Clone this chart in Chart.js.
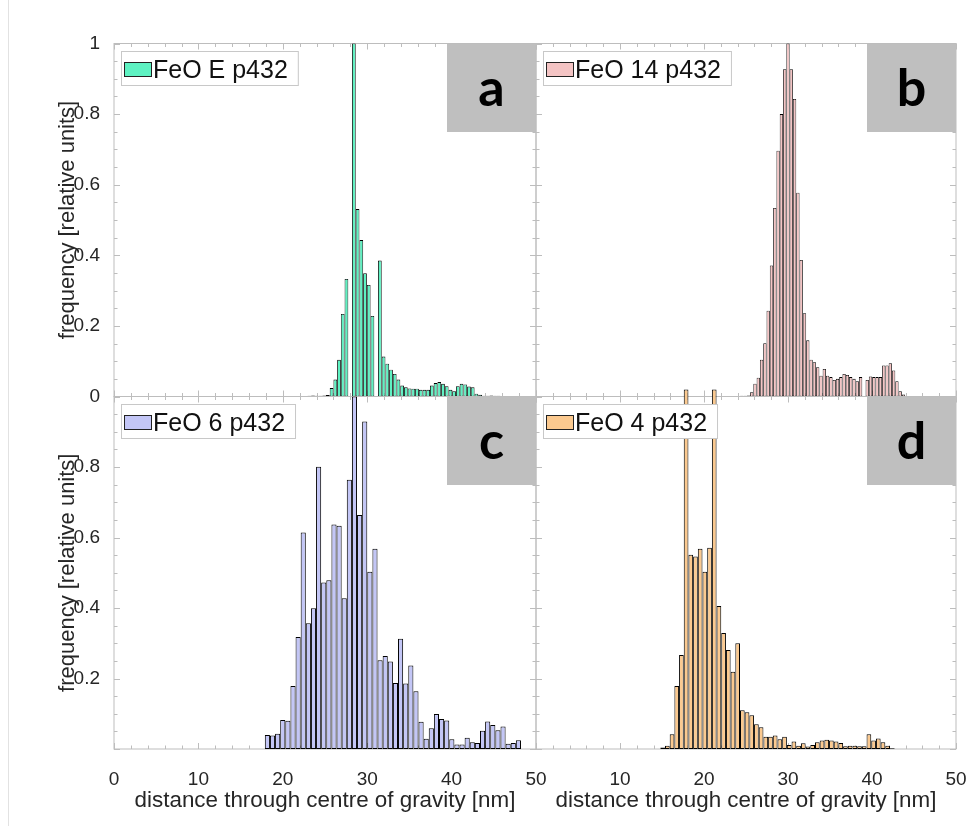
<!DOCTYPE html>
<html lang="en">
<head>
<meta charset="UTF-8">
<title>FeO p432 - distance through centre of gravity</title>
<script src="https://cdn.jsdelivr.net/npm/chart.js@4"></script>
<style>
  html, body { margin: 0; padding: 0; background: #fff; }
  #page { position: relative; width: 969px; height: 826px; overflow: hidden; }
  #page canvas { position: absolute; top: 0; }
  #panelA, #panelC { left: 0; }
  #panelB, #panelD { left: 436px; }
  .edge { position: absolute; left: 8px; top: 0; width: 1px; height: 826px; background: #e2e2e2; }
</style>
</head>
<body>
<div id="page">
  <div class="edge"></div>
  <canvas id="panelA"></canvas>
  <canvas id="panelB"></canvas>
  <canvas id="panelC"></canvas>
  <canvas id="panelD"></canvas>
</div>
<script>
// histogram bins: left edge of the first bin and bin width (nm), then relative frequencies
const binStartA = 22.92;
const binWidthA = 0.44;
const freqA = [0.002, 0.003, 0.002, 0.002, 0.003, 0.004,
  0.024, 0.048, 0.104, 0.234, 0.333, 0, 1.0, 0.531, 0.443, 0.349, 0.316, 0.228, 0, 0.385,
  0.113, 0.093, 0.076, 0.064, 0.048, 0.031, 0.026, 0.023, 0.022, 0.022, 0.019, 0.019, 0.019,
  0.031, 0.038, 0.041, 0.036, 0.029, 0.019, 0.015, 0.029, 0.036, 0.034, 0.028, 0.026, 0.008, 0.005,
  0.002, 0.002, 0.003, 0.002, 0.002];

const binStartB = 24.30;
const binWidthB = 0.393;
const freqB = [0.002, 0.002, 0.003,
  0.012, 0.036, 0.053, 0.104, 0.151, 0.243, 0.371, 0.534, 0.696, 0.80, 0.927, 1.0, 0.927, 0.843,
  0.577, 0.387, 0.236, 0.159, 0.104, 0.097, 0.083, 0.059, 0.078, 0.059, 0.055, 0.047, 0.050, 0.055,
  0.064, 0.061, 0.055, 0.050, 0.043, 0.055, 0, 0.047, 0.057, 0.055, 0.055, 0.055, 0.088, 0.088,
  0.094, 0.074, 0.043, 0.015, 0.006];

const binStartC = 17.87;
const binWidthC = 0.607;
const freqC = [0.040, 0.038, 0.043, 0.082, 0.080, 0.179, 0.318, 0.614, 0.357, 0.399, 0.801, 0.472,
  0.479, 0.637, 0.633, 0.428, 0.764, 1.0, 0.664, 0.929, 0.503, 0.568, 0.252, 0.264, 0.248, 0.187,
  0.313, 0.186, 0.237, 0.164, 0.077, 0.029, 0.059, 0.099, 0.085, 0.081, 0.028, 0.013, 0.013, 0.032,
  0.019, 0.017, 0.052, 0.078, 0.068, 0.053, 0.064, 0.015, 0.017, 0.025];

const binStartD = 14.80;
const binWidthD = 0.558;
const freqD = [0.004, 0.009, 0.042, 0.179, 0.267, 1.02, 0.551, 0.546, 0.568, 0.503, 0.571, 1.02,
  0.406, 0.329, 0.281, 0.219, 0.300, 0.110, 0.104, 0.096, 0.070, 0.062, 0.035, 0.035, 0.038, 0.028,
  0.035, 0.011, 0.021, 0.009, 0.016, 0.007, 0.011, 0.019, 0.024, 0.026, 0.024, 0.021, 0.017, 0.008,
  0.009, 0.009, 0.008, 0.008, 0.042, 0.024, 0.030, 0.019, 0.009, 0.002];

const xTickValues = [0, 10, 20, 30, 40, 50];
const xTickValuesRight = [10, 20, 30, 40, 50];
const yTickValues = [0, 0.2, 0.4, 0.6, 0.8, 1];
const yTickValuesLower = [0.2, 0.4, 0.6, 0.8];

const sampleNames = ['FeO E p432', 'FeO 14 p432', 'FeO 6 p432', 'FeO 4 p432'];
const panelLetters = ['a', 'b', 'c', 'd'];
const fillColors = ['#5ef2c2', '#f4c4c4', '#c3c6f6', '#fbc98f'];

const xTitle = 'distance through centre of gravity [nm]';
const yTitle = 'frequency [relative units]';

const H = 826;
const RIGHT_PAD = 30;   // room for the last x tick label, so the layout keeps the plot edge where asked
const FONT = '"Liberation Sans", Arial, Helvetica, sans-serif';
Chart.defaults.font.family = FONT;
Chart.defaults.color = '#262626';

// bin centres for the bar positions on the linear x axis
function binCentres(start, width, n) {
    const out = [];
    for (let i = 0; i < n; i++) out.push(start + (i + 0.5) * width);
    return out;
}

// frame with inward ticks, legend box and panel letter
const panelDecor = {
    id: 'panelDecor',
    beforeDatasetsDraw(chart, args, o) {
        const ctx = chart.ctx;
        const {left, top, right, bottom} = chart.chartArea;
        const xs = chart.scales.x, ys = chart.scales.y;
        ctx.save();
        ctx.strokeStyle = '#bdbdbd';
        ctx.lineWidth = 1;
        ctx.strokeRect(left, top, right - left, bottom - top);
        ctx.beginPath();
        for (let v = 0; v <= 50; v += 2) {
            const px = Math.round(xs.getPixelForValue(v)) + 0.5;
            const len = v % 10 === 0 ? 6 : 3.5;
            ctx.moveTo(px, bottom); ctx.lineTo(px, bottom - len);
            ctx.moveTo(px, top); ctx.lineTo(px, top + len);
        }
        for (let i = 0; i <= 20; i++) {
            const py = Math.round(ys.getPixelForValue(i * 0.05)) + 0.5;
            const len = i % 4 === 0 ? 6 : 3.5;
            ctx.moveTo(left, py); ctx.lineTo(left + len, py);
            ctx.moveTo(right, py); ctx.lineTo(right - len, py);
        }
        ctx.stroke();
        ctx.restore();
    },
    afterDatasetsDraw(chart, args, o) {
        const ctx = chart.ctx;
        const {left, top, right} = chart.chartArea;
        const ds = chart.data.datasets[0];
        ctx.save();
        // legend
        ctx.font = '25px ' + FONT;
        const tw = ctx.measureText(ds.label).width;
        const bx = Math.round(left) + 7, by = Math.round(top) + 7;
        const bw = 32 + tw + 10, bh = 34;
        ctx.fillStyle = '#fff';
        ctx.fillRect(bx, by, bw, bh);
        ctx.strokeStyle = '#c8c8c8';
        ctx.lineWidth = 1;
        ctx.strokeRect(bx + 0.5, by + 0.5, bw, bh);
        ctx.fillStyle = ds.backgroundColor;
        ctx.fillRect(bx + 3.5, by + 11.5, 27, 14);
        ctx.strokeStyle = '#222';
        ctx.strokeRect(bx + 3.5, by + 11.5, 27, 14);
        ctx.fillStyle = '#111';
        ctx.textBaseline = 'alphabetic';
        ctx.textAlign = 'left';
        ctx.fillText(ds.label, bx + 32, by + 27);
        // letter tag
        const tagW = 89, tagH = 88;
        const tx = right - tagW, ty = top + 0.5;
        ctx.fillStyle = '#bfbfbf';
        ctx.fillRect(tx, ty, tagW, tagH);
        ctx.fillStyle = '#000';
        ctx.font = 'bold 52px Lato, ' + FONT;
        ctx.textAlign = 'center';
        ctx.fillText(o.letter, tx + tagW / 2, ty + 62);
        ctx.restore();
    }
};

function makePanel(id, cfg) {
    const canvas = document.getElementById(id);
    const area = cfg.area;
    canvas.width = area.right + RIGHT_PAD;
    canvas.height = H;
    const centres = binCentres(cfg.start, cfg.width, cfg.freq.length);
    return new Chart(canvas, {
        type: 'bar',
        data: {
            datasets: [{
                label: cfg.name,
                data: centres.map((x, i) => ({x: x, y: cfg.freq[i]})),
                backgroundColor: cfg.color,
                borderColor: '#000',
                borderWidth: cfg.edge,
                borderSkipped: false,
                inflateAmount: 0,
                barPercentage: 1,
                categoryPercentage: 1,
                clip: false
            }]
        },
        options: {
            responsive: false,
            maintainAspectRatio: false,
            animation: false,
            events: [],
            layout: {
                autoPadding: false,
                padding: { top: area.top, right: RIGHT_PAD, left: 0, bottom: 0 }
            },
            plugins: {
                legend: { display: false },
                tooltip: { enabled: false },
                panelDecor: { letter: cfg.letter }
            },
            scales: {
                x: {
                    type: 'linear', min: 0, max: 50, offset: false,
                    grid: { display: false }, border: { display: false },
                    afterBuildTicks: s => { s.ticks = (cfg.xTicks || xTickValues).map(v => ({value: v})); },
                    ticks: {
                        display: !!cfg.xTicks, padding: 11.6, autoSkip: false, maxRotation: 0,
                        font: { size: 19 }, callback: v => String(v)
                    },
                    title: {
                        display: !!cfg.xTicks, text: xTitle, font: { size: 22.4 },
                        padding: { top: 0, bottom: 11.8 }
                    },
                    afterFit: s => { s.height = H - area.bottom; }
                },
                y: {
                    min: 0, max: 1,
                    grid: { display: false }, border: { display: false },
                    afterBuildTicks: s => { s.ticks = (cfg.yTicks || yTickValues).map(v => ({value: v})); },
                    ticks: { display: !!cfg.yTicks, padding: 6, font: { size: 19 }, callback: v => String(v) },
                    title: {
                        display: !!cfg.yTicks, text: yTitle, font: { size: 22 },
                        padding: { top: 54.3, bottom: 0 }
                    },
                    afterFit: s => { s.width = area.left; }
                }
            }
        },
        plugins: [panelDecor]
    });
}

// left column canvases start at x=0, right column canvases at x=436
makePanel('panelA', {
    area: {left: 114, top: 43.5, right: 536, bottom: 396.5},
    start: binStartA, width: binWidthA, freq: freqA, edge: 0.85,
    name: sampleNames[0], letter: panelLetters[0], color: fillColors[0],
    yTicks: yTickValues
});
makePanel('panelB', {
    area: {left: 100, top: 43.5, right: 520.5, bottom: 396.5},
    start: binStartB, width: binWidthB, freq: freqB, edge: 0.8,
    name: sampleNames[1], letter: panelLetters[1], color: fillColors[1]
});
makePanel('panelC', {
    area: {left: 114, top: 396.5, right: 536, bottom: 749},
    start: binStartC, width: binWidthC, freq: freqC, edge: 1,
    name: sampleNames[2], letter: panelLetters[2], color: fillColors[2],
    xTicks: xTickValues, yTicks: yTickValuesLower
});
makePanel('panelD', {
    area: {left: 100, top: 396.5, right: 520.5, bottom: 749},
    start: binStartD, width: binWidthD, freq: freqD, edge: 1,
    name: sampleNames[3], letter: panelLetters[3], color: fillColors[3],
    xTicks: xTickValuesRight
});
</script>
</body>
</html>
